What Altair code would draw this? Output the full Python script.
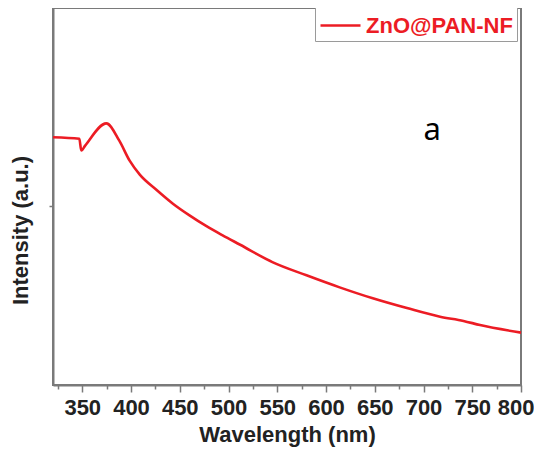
import altair as alt
import pandas as pd

# Spectrum (wavelength in nm, intensity in arbitrary units)
wavelength = [320, 347, 349, 353, 374.7, 388, 398.6, 409, 426, 443, 460, 477, 494,
              512, 545, 580, 614, 648, 683, 717, 741, 758, 800]
intensity = [65.7, 65.3, 62.2, 63.5, 69.4, 64.8, 59.5, 55.8, 51.8, 48.1, 45.0, 42.2, 39.7,
             37.2, 32.6, 29.1, 25.9, 23.0, 20.4, 18.1, 17.0, 15.9, 13.9]
series_name = ["ZnO@PAN-NF"] * len(wavelength)

x_major = [350, 400, 450, 500, 550, 600, 650, 700, 750, 800]
x_minor = [325, 375, 425, 475, 525, 575, 625, 675, 725, 775]
y_ticks = [47.5]

panel_label = ["a"]
panel_x = [709]
panel_y = [67.5]

df = pd.DataFrame({"wl": wavelength, "I": intensity, "s": series_name})
lab = pd.DataFrame({"t": panel_label, "x": panel_x, "y": panel_y})

FONT = "Liberation Sans"
RED = "#ec1c24"
GRAY = "#7a7a7a"

xscale = alt.Scale(domain=[320, 800], nice=False, zero=False)
yscale = alt.Scale(domain=[0, 100], nice=False, zero=False)

line = alt.Chart(df).mark_line(strokeWidth=2.6, interpolate="monotone").encode(
    x=alt.X("wl:Q", scale=xscale,
            axis=alt.Axis(values=x_major, title="Wavelength (nm)", orient="bottom",
                          labelOverlap=False, labelFlush=True, labelFlushOffset=13,
                          tickSize=7, labelPadding=5, titlePadding=6,
                          labelFontSize=22, titleFontSize=22)),
    y=alt.Y("I:Q", scale=yscale,
            axis=alt.Axis(values=y_ticks, labels=False, title="Intensity (a.u.)",
                          tickSize=4, titleFontSize=22, titlePadding=16, titleY=222)),
    color=alt.Color("s:N", scale=alt.Scale(range=[RED]),
                    legend=alt.Legend(title=None, orient="none", legendX=262, legendY=-8,
                                      symbolType="stroke", symbolSize=1600,
                                      symbolStrokeWidth=2.6, labelColor=RED,
                                      labelFont=FONT, labelFontWeight="bold",
                                      labelFontSize=22, strokeColor="#9a9a9a",
                                      padding=4, fillColor="white")),
)

text = alt.Chart(lab).mark_text(font="Noto Sans", fontSize=31, color="black",
                                baseline="middle", align="center").encode(
    x=alt.X("x:Q", scale=xscale,
            axis=alt.Axis(values=x_minor, orient="bottom", labels=False, domain=False,
                          title=None, tickSize=4)),
    y=alt.Y("y:Q", scale=yscale), text="t:N")

chart = alt.layer(line, text).resolve_axis(x="independent").properties(
    width=468, height=377,
    autosize=alt.AutoSizeParams(type="none"),
    padding={"left": 45, "top": 0, "right": 13, "bottom": 70},
).configure_axis(
    domainColor=GRAY, domainWidth=2, tickColor=GRAY, tickWidth=1.5,
    labelFont=FONT, titleFont=FONT, labelFontWeight="bold", titleFontWeight="bold",
    labelColor="#222222", titleColor="#222222", grid=False,
).configure_view(stroke=GRAY, strokeWidth=2)

chart.save("out.html", embed_options={"renderer": "svg", "actions": False})
